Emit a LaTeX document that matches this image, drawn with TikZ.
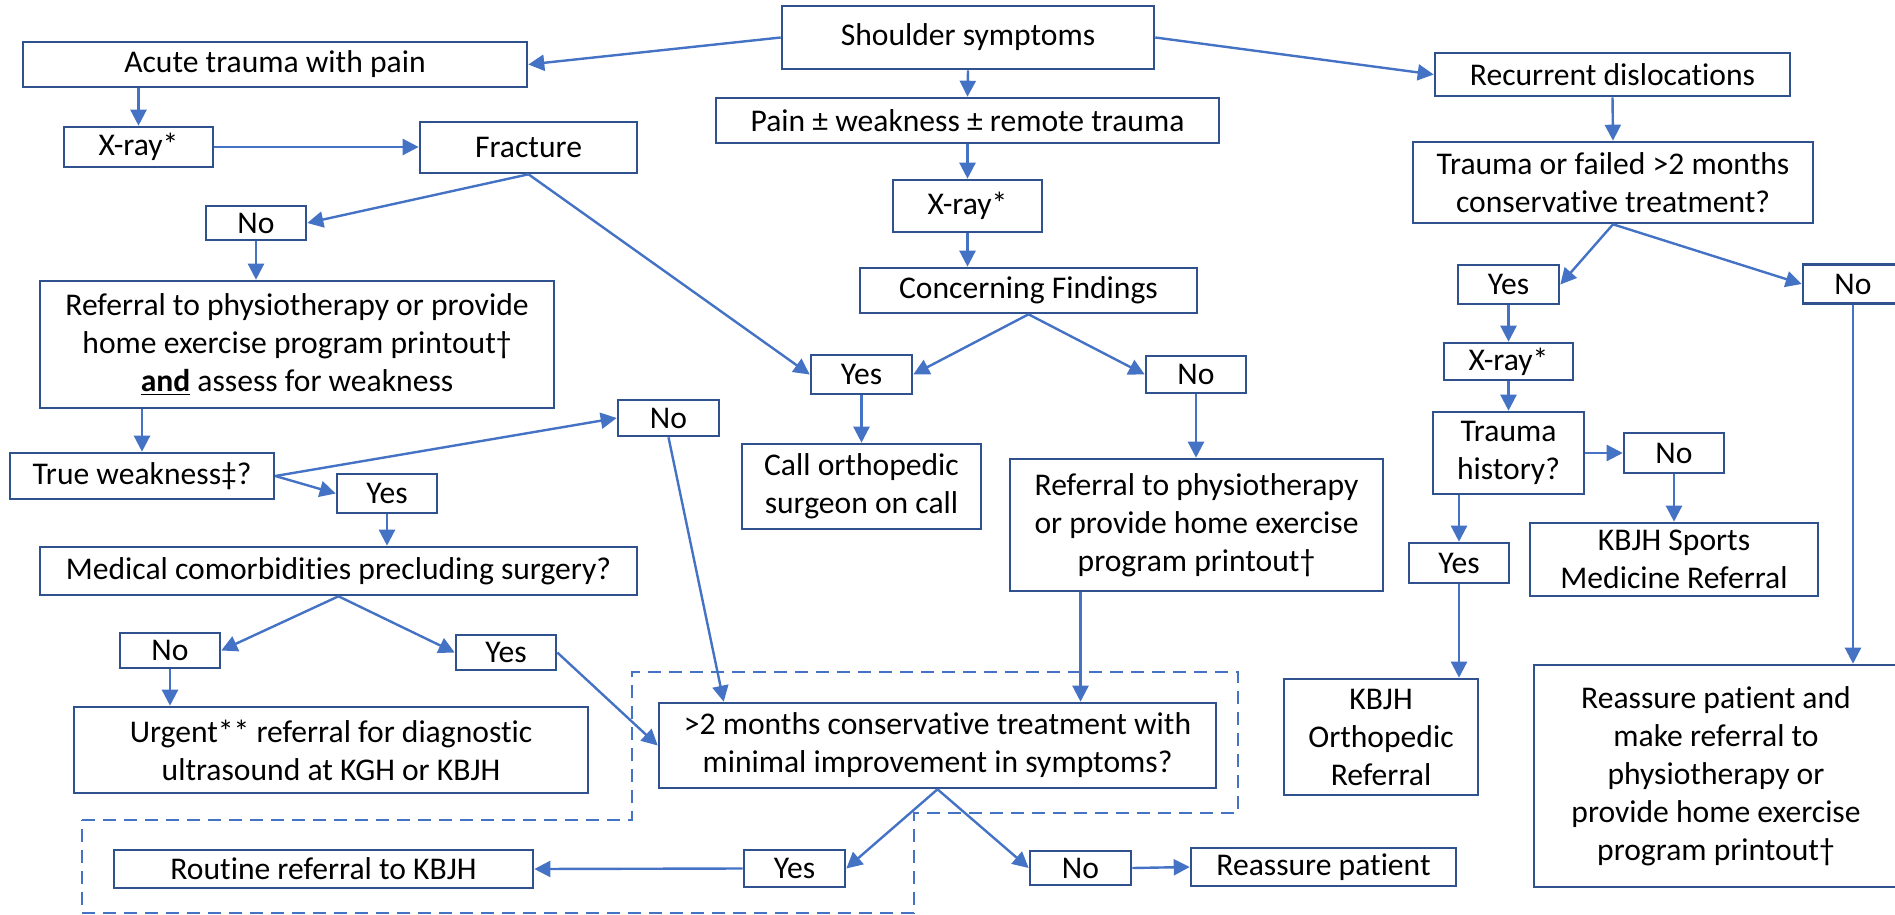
\documentclass[tikz,border=0pt]{standalone}
\usepackage{fontspec}
\setmainfont{Carlito}[Ligatures=NoCommon]
\usetikzlibrary{arrows.meta,calc}
\definecolor{bord}{HTML}{2F528F}
\definecolor{ln}{HTML}{4472C4}
\tikzset{
  box/.style={draw=bord, line width=1.3pt, fill=white, inner sep=0pt, align=center,
    font=\fontsize{15.8}{19}\selectfont, text=black},
  arr/.style={draw=ln, line width=1.2pt, -{Triangle[length=8pt,width=8pt]}},
  dashbox/.style={draw=ln, line width=1.3pt, dash pattern=on 6.5pt off 4pt},
}
\newcommand\mybox[6]{\node[box, minimum width=#4*0.5pt, minimum height=#5*0.5pt] (#1) at (#2,#3) {#6};}
\begin{document}
\begin{tikzpicture}[x=0.5pt,y=-0.5pt]
\useasboundingbox (0,0) rectangle (1895,915);
% dashed outline
\draw[dashbox] (82,820) -- (632,820) -- (632,672) -- (1238,672) -- (1238,813) -- (914,813) -- (914,913) -- (82,913) -- cycle;
% nodes
\mybox{shoulder}{968}{37.5}{372}{63}{Shoulder symptoms}
\mybox{acute}{275}{64.5}{504}{45}{Acute trauma with pain}
\mybox{xray1}{138.5}{147}{149}{40}{X-ray*}
\mybox{fracture}{528.5}{147.5}{217}{51}{Fracture}
\mybox{no1}{256}{223}{100}{34}{No}
\mybox{ref1}{297}{344.5}{514}{127}{Referral to physiotherapy or provide\\home exercise program printout†\\\underline{\textbf{and}} assess for weakness}
\mybox{pain}{967.5}{120.5}{503}{45}{Pain ± weakness ± remote trauma}
\mybox{xray2}{967.5}{206}{149}{52}{X-ray*}
\mybox{concern}{1028.5}{290.5}{337}{45}{Concerning Findings}
\mybox{recur}{1612.5}{74.5}{355}{43}{Recurrent dislocations}
\mybox{trfail}{1613}{182.5}{400}{81}{Trauma or failed >2 months\\conservative treatment?}
\mybox{yesR}{1508.5}{284.5}{101}{39}{Yes}
\mybox{noR}{1853}{284}{100}{39}{No}
\mybox{yesM}{861.5}{374.5}{101}{39}{Yes}
\mybox{noM}{1196}{374.5}{100}{37}{No}
\mybox{call}{861.5}{486.5}{239}{85}{Call orthopedic\\surgeon on call}
\mybox{refM}{1196.5}{525}{373}{132}{Referral to physiotherapy\\or provide home exercise\\program printout†}
\mybox{noL2}{668.5}{418}{101}{36}{No}
\mybox{truew}{142}{476}{264}{46}{True weakness‡?}
\mybox{yesL}{387}{493.5}{100}{39}{Yes}
\mybox{medical}{338.5}{571}{597}{48}{Medical comorbidities precluding surgery?}
\mybox{noL3}{170}{650.5}{100}{35}{No}
\mybox{yesL3}{506}{652.5}{100}{35}{Yes}
\mybox{urgent}{331}{750}{514}{86}{Urgent** referral for diagnostic\\ultrasound at KGH or KBJH}
\mybox{months}{937.5}{745.5}{557}{85}{>2 months conservative treatment with\\minimal improvement in symptoms?}
\mybox{routine}{323.5}{869}{419}{38}{Routine referral to KBJH}
\mybox{yesB}{794.5}{868.5}{101}{37}{Yes}
\mybox{noB}{1080.5}{868}{101}{34}{No}
\mybox{reassure}{1323.5}{867}{265}{38}{Reassure patient}
\mybox{xray3}{1508.5}{361.5}{129}{37}{X-ray*}
\mybox{trhist}{1508.5}{453}{151}{82}{Trauma\\history?}
\mybox{noR2}{1674}{453}{100}{40}{No}
\mybox{sports}{1674}{559.5}{288}{73}{KBJH Sports\\Medicine Referral}
\mybox{yesR2}{1459}{563}{100}{40}{Yes}
\mybox{kbjhortho}{1381}{737}{194}{116}{KBJH\\Orthopedic\\Referral}
\mybox{bigre}{1716}{776}{364}{222}{Reassure patient and\\make referral to\\physiotherapy or\\provide home exercise\\program printout†}
% connectors
\draw[arr] (shoulder.west) -- (acute.east);
\draw[arr] (shoulder.east) -- (recur.west);
\draw[arr] (shoulder.south) -- (pain.north);
\draw[arr] (acute.south -| xray1.north) -- (xray1.north);
\draw[arr] (xray1.east) -- (xray1.east -| fracture.west);
\draw[arr] (fracture.south) -- (no1.east);
\draw[arr] (fracture.south) -- (yesM.west);
\draw[arr] (no1.south) -- (no1.south |- ref1.north);
\draw[arr] (ref1.south -| truew.north) -- (truew.north);
\draw[arr] (truew.east) -- (noL2.west);
\draw[arr] (truew.east) -- (yesL.west);
\draw[arr] (yesL.south) -- (yesL.south |- medical.north);
\draw[arr] (medical.south) -- (noL3.east);
\draw[arr] (medical.south) -- (yesL3.west);
\draw[arr] (noL3.south) -- (noL3.south |- urgent.north);
\draw[arr] (yesL3.east) -- (months.west);
\coordinate (mIn) at ($(months.north west)+(66,0)$);
\draw[arr] (noL2.south) -- (mIn);
\draw[arr] (pain.south) -- (xray2.north);
\draw[arr] (xray2.south) -- (xray2.south |- concern.north);
\draw[arr] (concern.south) -- (yesM.east);
\draw[arr] (concern.south) -- (noM.west);
\draw[arr] (yesM.south) -- (call.north);
\draw[arr] (noM.south) -- (noM.south |- refM.north);
\draw[arr] (refM.south -| noB.north) -- (months.north -| noB.north);
\draw[arr] (months.south) -- (yesB.east);
\draw[arr] (months.south) -- (noB.west);
\draw[arr] (noB.east) -- (reassure.west);
\draw[arr] (yesB.west) -- (routine.east);
\draw[arr] (recur.south) -- (trfail.north);
\draw[arr] (trfail.south) -- (yesR.east);
\draw[arr] (trfail.south) -- (noR.west);
\draw[arr] (yesR.south) -- (xray3.north);
\draw[arr] (xray3.south) -- (trhist.north);
\draw[arr] (trhist.east) -- (noR2.west);
\draw[arr] (noR2.south) -- (sports.north);
\draw[arr] (trhist.south -| yesR2.north) -- (yesR2.north);
\draw[arr] (yesR2.south) -- (yesR2.south |- kbjhortho.north);
\draw[arr] (noR.south) -- (noR.south |- bigre.north);
\end{tikzpicture}
\end{document}
